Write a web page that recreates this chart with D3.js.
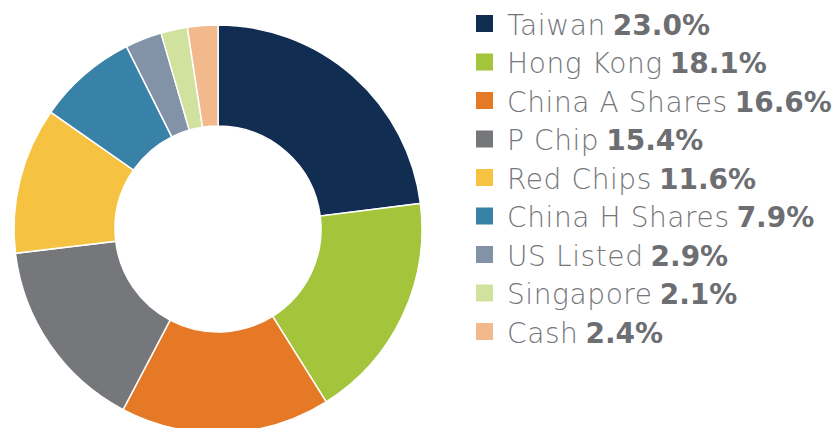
<!DOCTYPE html>
<html>
<head>
<meta charset="utf-8">
<script src="https://cdn.jsdelivr.net/npm/d3@7"></script>
<style>
  html, body { margin: 0; padding: 0; background: #fff; }
  #chart { width: 834px; height: 428px; overflow: hidden; }
</style>
</head>
<body>
<div id="chart"></div>
<script>
// Region weights (%)
var regions = ["Taiwan", "Hong Kong", "China A Shares", "P Chip", "Red Chips", "China H Shares", "US Listed", "Singapore", "Cash"];
var weights = [23.0, 18.1, 16.6, 15.4, 11.6, 7.9, 2.9, 2.1, 2.4];
var colors = ["#112d52", "#a3c43b", "#e57926", "#76777b", "#f5c242", "#3881a7", "#8293a7", "#d1e19e", "#f2b98c"];

var width = 834;
var height = 428;

var donutCenter = { x: 218, y: 229 };
var outerR = 204;
var innerR = 103;

var data = regions.map(function(r, i) {
    return { region: r, weight: weights[i] };
});

var svg = d3.select("#chart").append("svg")
    .attr("width", width)
    .attr("height", height)
    .attr("viewBox", [0, 0, width, height]);

var colorScale = d3.scaleOrdinal()
    .domain(regions)
    .range(colors);

var pie = d3.pie()
    .value(d => d.weight)
    .sort(null);

var arc = d3.arc()
    .innerRadius(innerR)
    .outerRadius(outerR);

var donutG = svg.append("g")
    .attr("transform", `translate(${donutCenter.x}, ${donutCenter.y})`);

donutG.selectAll("path")
    .data(pie(data))
    .enter()
    .append("path")
    .attr("d", arc)
    .attr("fill", d => colorScale(d.data.region))
    .attr("stroke", "#fff")
    .attr("stroke-width", 1.5);

// legend
var legendX = 476;
var legendTop = 23.5;
var rowGap = 38.5;
var boxSize = 17;
var fontStack = "'DejaVu Sans', sans-serif";

var legendY = d3.scaleLinear()
    .domain([0, 1])
    .range([legendTop, legendTop + rowGap]);

var rows = svg.append("g")
    .selectAll(".legendRow")
    .data(data).enter()
    .append("g")
    .attr("class", "legendRow")
    .attr("transform", (d, i) => `translate(${legendX}, ${legendY(i)})`);

rows.append("rect")
    .attr("x", 0)
    .attr("y", -boxSize / 2)
    .attr("width", boxSize)
    .attr("height", boxSize)
    .attr("fill", d => colorScale(d.region));

var labels = rows.append("text")
    .attr("class", "legendLabel")
    .attr("x", 31)
    .attr("y", 11)
    .style("font-family", fontStack)
    .style("font-size", "28px")
    .style("font-weight", 300)
    .style("letter-spacing", "0.6px")
    .attr("fill", "#74767a")
    .text(d => d.region);

// value sits right after the label
rows.append("text")
    .attr("class", "legendValue")
    .attr("x", function(d, i) {
        return 31 + labels.nodes()[i].getComputedTextLength() + 7;
    })
    .attr("y", 11)
    .style("font-family", fontStack)
    .style("font-size", "28px")
    .style("font-weight", 700)
    .attr("fill", "#6d6e72")
    .text(d => d.weight.toFixed(1) + "%");
</script>
</body>
</html>
